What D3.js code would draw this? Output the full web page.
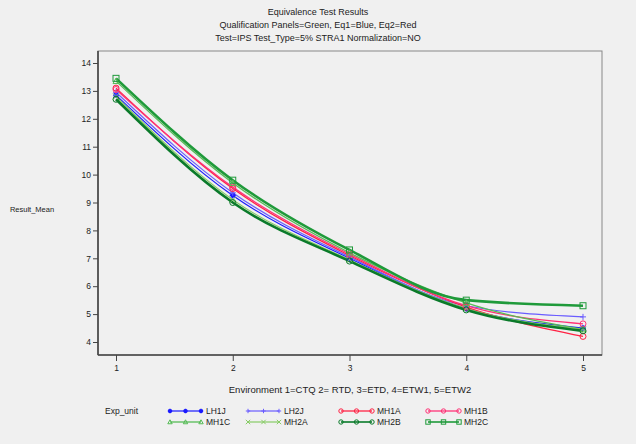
<!DOCTYPE html>
<html><head><meta charset="utf-8">
<script src="https://cdn.jsdelivr.net/npm/d3@7"></script>
<style>
html,body{margin:0;padding:0;background:#f0f0f0;}
svg{display:block;font-family:"Liberation Sans",Arial,sans-serif;}
</style></head>
<body>
<script>
const environments = [1, 2, 3, 4, 5];
const yTicks = [4, 5, 6, 7, 8, 9, 10, 11, 12, 13, 14];
const seriesNames = ["LH1J", "LH2J", "MH1A", "MH1B", "MH1C", "MH2A", "MH2B", "MH2C"];
const LH1J = [12.85, 9.25, 7.0, 5.2, 4.5];
const LH2J = [12.95, 9.35, 7.05, 5.3, 4.9];
const MH1A = [13.1, 9.5, 7.1, 5.25, 4.2];
const MH1B = [13.05, 9.55, 7.15, 5.3, 4.65];
const MH1C = [13.35, 9.7, 7.2, 5.4, 4.45];
const MH2A = [12.8, 9.1, 6.95, 5.2, 4.45];
const MH2B = [12.7, 9.0, 6.9, 5.15, 4.4];
const MH2C = [13.45, 9.8, 7.3, 5.5, 5.3];
const seriesValues = [LH1J, LH2J, MH1A, MH1B, MH1C, MH2A, MH2B, MH2C];
const titles = ["Equivalence Test Results",
  "Qualification Panels=Green, Eq1=Blue, Eq2=Red",
  "Test=IPS Test_Type=5% STRA1 Normalization=NO"];
const xLabel = "Environment  1=CTQ 2= RTD, 3=ETD, 4=ETW1, 5=ETW2";
const yLabel = "Result_Mean";
const legendTitle = "Exp_unit";

const colors = {LH1J:"#1a1aff", LH2J:"#6a5cff", MH1A:"#ff2244", MH1B:"#ff3377",
  MH1C:"#55bb55", MH2A:"#88cc66", MH2B:"#0a7a2a", MH2C:"#1f9a3a"};
const widths = {LH1J:1.2, LH2J:1.2, MH1A:1.3, MH1B:1.3, MH1C:1.3, MH2A:1.2, MH2B:2.6, MH2C:2.6};
const symbols = {LH1J:"star", LH2J:"plus", MH1A:"circle", MH1B:"circle", MH1C:"triangle",
  MH2A:"x", MH2B:"circle", MH2C:"square"};

const W = 636, H = 444;
const svg = d3.select("body").append("svg").attr("width", W).attr("height", H);
svg.append("rect").attr("width", W).attr("height", H).attr("fill", "#f0f0f0");

const L = 98, R = 602, T = 51, B = 355;
const x = d3.scaleLinear().domain([1, 5]).range([116, 583]);
const y = d3.scaleLinear().domain([4, 14]).range([342, 63]);

// titles
titles.forEach((t, i) => {
  svg.append("text").attr("x", 318).attr("y", 15 + i * 13).attr("text-anchor", "middle")
    .attr("font-size", 9).attr("fill", "#222").text(t);
});

// frame
svg.append("rect").attr("x", L).attr("y", T).attr("width", R - L).attr("height", B - T)
  .attr("fill", "none").attr("stroke", "#888").attr("stroke-width", 1);
svg.append("line").attr("x1", L).attr("x2", L).attr("y1", T).attr("y2", B)
  .attr("stroke", "#444").attr("stroke-width", 1.6);
svg.append("line").attr("x1", L).attr("x2", R).attr("y1", B).attr("y2", B)
  .attr("stroke", "#444").attr("stroke-width", 1.6);

// axes
const yAxis = d3.axisLeft(y).tickValues(yTicks).tickSize(5).tickPadding(2).tickFormat(d3.format("d"));
const gy = svg.append("g").attr("transform", `translate(${L},0)`).call(yAxis);
gy.select(".domain").remove();
gy.selectAll("line").attr("stroke", "#444");
gy.selectAll("text").attr("font-size", 8.5).attr("fill", "#222").attr("font-family", "Liberation Sans, Arial");

const xAxis = d3.axisBottom(x).tickValues(environments).tickSize(6).tickPadding(4).tickFormat(d3.format("d"));
const gx = svg.append("g").attr("transform", `translate(0,${B})`).call(xAxis);
gx.select(".domain").remove();
gx.selectAll("line").attr("stroke", "#444");
gx.selectAll("text").attr("font-size", 8.5).attr("fill", "#222").attr("font-family", "Liberation Sans, Arial");

svg.append("text").attr("x", 350).attr("y", 393).attr("text-anchor", "middle")
  .attr("font-size", 9.5).attr("fill", "#222").text(xLabel);
svg.append("text").attr("x", 32).attr("y", 212).attr("text-anchor", "middle")
  .attr("font-size", 7.5).attr("fill", "#222").text(yLabel);

// symbol drawing
function drawSymbol(g, type, cx, cy, color, s) {
  const lw = 1;
  if (type === "circle") {
    g.append("circle").attr("cx", cx).attr("cy", cy).attr("r", s).attr("fill", "none")
      .attr("stroke", color).attr("stroke-width", lw);
  } else if (type === "square") {
    g.append("rect").attr("x", cx - s).attr("y", cy - s).attr("width", 2 * s).attr("height", 2 * s)
      .attr("fill", "none").attr("stroke", color).attr("stroke-width", lw);
  } else if (type === "triangle") {
    g.append("path").attr("d", `M${cx},${cy - s}L${cx + s},${cy + s * 0.8}L${cx - s},${cy + s * 0.8}Z`)
      .attr("fill", "none").attr("stroke", color).attr("stroke-width", lw);
  } else if (type === "plus") {
    g.append("path").attr("d", `M${cx - s},${cy}H${cx + s}M${cx},${cy - s}V${cy + s}`)
      .attr("stroke", color).attr("stroke-width", lw);
  } else if (type === "x") {
    g.append("path").attr("d", `M${cx - s},${cy - s}L${cx + s},${cy + s}M${cx - s},${cy + s}L${cx + s},${cy - s}`)
      .attr("stroke", color).attr("stroke-width", lw);
  } else if (type === "star") {
    g.append("path").attr("d", `M${cx - s},${cy}H${cx + s}M${cx},${cy - s}V${cy + s}M${cx - s * 0.7},${cy - s * 0.7}L${cx + s * 0.7},${cy + s * 0.7}M${cx - s * 0.7},${cy + s * 0.7}L${cx + s * 0.7},${cy - s * 0.7}`)
      .attr("stroke", color).attr("stroke-width", lw * 1.4);
  }
}

// lines
const line = d3.line().x((d, i) => x(environments[i])).y(d => y(d)).curve(d3.curveMonotoneX);
const plot = svg.append("g");
seriesNames.forEach((n, k) => {
  plot.append("path").datum(seriesValues[k]).attr("d", line).attr("fill", "none")
    .attr("stroke", colors[n]).attr("stroke-width", widths[n]);
});
seriesNames.forEach((n, k) => {
  seriesValues[k].forEach((v, i) => drawSymbol(plot, symbols[n], x(environments[i]), y(v), colors[n], 3));
});

// legend
svg.append("text").attr("x", 105).attr("y", 414).attr("font-size", 8.5).attr("fill", "#222").text(legendTitle);
const colX = [170, 248, 341, 428];
const rowY = [411, 422];
seriesNames.forEach((n, k) => {
  const col = k % 4, row = Math.floor(k / 4);
  const x0 = colX[col], yy = rowY[row], len = 31;
  const g = svg.append("g");
  g.append("line").attr("x1", x0).attr("x2", x0 + len).attr("y1", yy).attr("y2", yy)
    .attr("stroke", colors[n]).attr("stroke-width", Math.min(widths[n], 1.6));
  [0, 0.5, 1].forEach(f => drawSymbol(g, symbols[n], x0 + f * len, yy, colors[n], 2.2));
  g.append("text").attr("x", x0 + len + 5).attr("y", yy + 3).attr("font-size", 8.5)
    .attr("fill", "#222").text(n);
});
</script>
</body></html>
